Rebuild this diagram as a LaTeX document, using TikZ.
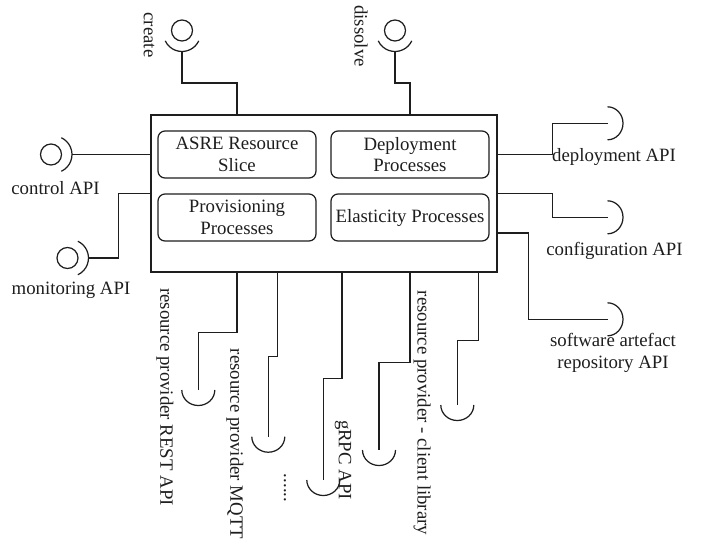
\documentclass[tikz,border=0pt]{standalone}
\usepackage{fontspec}
\setmainfont{Liberation Serif}
\usepackage{tikz}
\usetikzlibrary{calc}
\definecolor{ink}{RGB}{30,30,30}

\begin{document}
\begin{tikzpicture}[
  x=2cm, y=2cm,
  font=\fontsize{10.7}{12.2}\selectfont,
  wire/.style={draw=ink, line width=0.7pt},
  process/.style={draw=ink, line width=0.7pt, rounded corners=0.14cm,
    minimum width=3.16cm, minimum height=0.94cm, inner sep=1pt,
    align=center, text=ink},
  iface/.style={text=ink, align=center, inner sep=0pt},
  viface/.style={iface, rotate=-90},
  provided/.pic={
    \draw[wire] (-0.185,0) ++(-65:0.185) arc[start angle=-65, end angle=65, radius=0.185];
    \draw[wire] (-0.21,0) circle[radius=0.105];
  },
  required/.pic={
    \draw[wire] (0,0.165) arc[start angle=90, end angle=-90, x radius=0.155, y radius=0.165];
  },
]
\path[use as bounding box, fill=white] (0,0) rectangle (7.09,-5.42);

% Component and its four process groups
\node[draw=ink, line width=0.7pt, minimum width=6.92cm, minimum height=3.14cm, inner sep=0pt] (core) at (3.24,-1.935) {};
\node[process] (slice)   at (2.37,-1.545) {ASRE Resource\\Slice};
\node[process] (deploy)  at (4.10,-1.545) {Deployment\\Processes};
\node[process] (prov)    at (2.37,-2.175) {Provisioning\\Processes};
\node[process] (elastic) at (4.10,-2.175) {Elasticity Processes};

% Provided interfaces: top and left
\coordinate (create)   at (1.82,-0.515);
\coordinate (dissolve) at (3.95,-0.515);
\coordinate (control)  at (0.72,-1.545);
\coordinate (monitor)  at (0.885,-2.58);
\pic[rotate=-90] at (create) {provided};
\pic[rotate=-90] at (dissolve) {provided};
\pic at (control) {provided};
\pic at (monitor) {provided};
\node[viface] (createlbl)   at (1.49,-0.35) {create};
\node[viface] (dissolvelbl) at (3.61,-0.36) {dissolve};
\node[iface]  (controllbl)  at (0.555,-1.88) {control API};
\node[iface]  (monitorlbl)  at (0.71,-2.90) {monitoring API};

% Required interfaces: right and bottom
\coordinate (deployapi) at (6.075,-1.233);
\coordinate (configapi) at (6.075,-2.173);
\coordinate (repoapi)   at (6.075,-3.193);
\coordinate (rest)      at (1.983,-3.90);
\coordinate (mqtt)      at (2.683,-4.367);
\coordinate (grpc)      at (3.233,-4.80);
\coordinate (client)    at (3.79,-4.50);
\coordinate (spare)     at (4.573,-4.05);
\foreach \i in {deployapi,configapi,repoapi}
  \pic at (\i) {required};
\foreach \i in {rest,mqtt,grpc,client,spare}
  \pic[rotate=-90] at (\i) {required};
\node[iface]  (deploylbl) at (6.14,-1.57) {deployment API};
\node[iface]  (configlbl) at (6.145,-2.51) {configuration API};
\node[iface]  (repolbl)   at (6.13,-3.53) {software artefact\\repository API};
\node[viface] (restlbl)   at (1.65,-3.97) {resource provider REST API};
\node[viface] (mqttlbl)   at (2.35,-4.44) {resource provider MQTT};
\node[viface] (morelbl)   at (2.85,-4.88) {......};
\node[viface] (grpclbl)   at (3.43,-4.60) {gRPC API};
\node[viface] (clientlbl) at (4.22,-4.13) {resource provider - client library};

% Wires, top
\draw[wire] (slice |- core.north) -- ++(0,0.315) -| (create);
\draw[wire] (deploy |- core.north) -- ++(0,0.315) -| (dissolve);
% Wires, left
\draw[wire] (slice -| core.west) -- (control);
\draw[wire] (core.west) -- ++(-0.32,0) |- (monitor);
% Wires, right
\draw[wire] (deploy -| core.east) -- ++(0.55,0) |- (deployapi);
\draw[wire] (core.east) -- ++(0.55,0) |- (configapi);
\draw[wire] ($(core.north east)!.75!(core.south east)$) -- ++(0.31,0) |- (repoapi);
% Wires, bottom
\draw[wire] (prov |- core.south) -- ++(0,-0.60) -| (rest);
\draw[wire] ($(core.south west)!.367!(core.south east)$) -- ++(0,-0.84) -| (mqtt);
\draw[wire] ($(core.south west)!.552!(core.south east)$) -- ++(0,-1.06) -| (grpc);
\draw[wire] (elastic |- core.south) -- ++(0,-0.90) -| (client);
\draw[wire] ($(core.south west)!.945!(core.south east)$) -- ++(0,-0.68) -| (spare);

\end{tikzpicture}
\end{document}
